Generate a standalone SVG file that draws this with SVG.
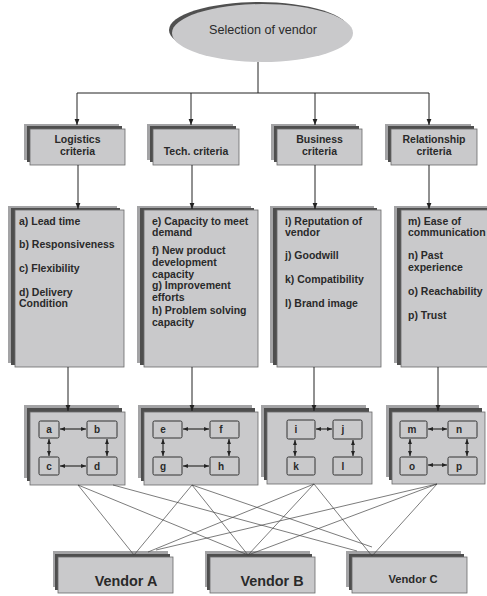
<svg xmlns="http://www.w3.org/2000/svg" width="487" height="596" viewBox="0 0 487 596">
<defs>
<style>
.sh1{fill:#a3a3a5}
.sh2{fill:#4e4e4e}
.box{fill:#c9c9cb;stroke:#6a6a6a;stroke-width:0.8}
.ib{fill:#c9c9cb;stroke:#333;stroke-width:1}
.t{font-family:"Liberation Sans",Arial,sans-serif;font-weight:bold;fill:#2a2a2a}
.hd{font-size:10.5px;text-anchor:middle}
.li{font-size:10.5px}
.lt{font-size:10px;text-anchor:middle}
.ln{stroke:#222;stroke-width:1;fill:none}
.ar{stroke:#222;stroke-width:1.1;fill:none}
.vl{stroke:#444;stroke-width:0.7;fill:none}
</style>
<marker id="ah" viewBox="0 0 10 10" refX="10" refY="5" markerWidth="6" markerHeight="6" orient="auto"><path d="M0,1 L10,5 L0,9 Z" fill="#222"/></marker>
<marker id="sa" viewBox="0 0 10 10" refX="10" refY="5" markerWidth="4.5" markerHeight="4.5" orient="auto-start-reverse"><path d="M0,1 L10,5 L0,9 Z" fill="#222"/></marker>
</defs>
<rect width="487" height="596" fill="#fff"/>

<g id="selection">
<ellipse cx="259" cy="30" rx="90" ry="28" fill="#505050"/>
<ellipse cx="262.5" cy="33" rx="90.5" ry="29" fill="#c9c9cb"/>
<text x="263" y="34" font-family="'Liberation Sans',Arial,sans-serif" font-size="12.6" text-anchor="middle" fill="#2a2a2a">Selection of vendor</text>
</g>

<g id="logistics-criteria">
<rect class="sh1" x="24" y="124" width="95" height="36"/><rect class="sh2" x="27" y="126" width="95" height="36"/><rect class="box" x="30" y="129" width="95" height="36"/>
<text class="t hd" x="77.5" y="143">Logistics</text><text class="t hd" x="77.5" y="155">criteria</text>
</g>
<g id="tech-criteria">
<rect class="sh1" x="147" y="124" width="86" height="36"/><rect class="sh2" x="150" y="126" width="86" height="36"/><rect class="box" x="153" y="129" width="86" height="36"/>
<text class="t hd" x="196" y="155">Tech. criteria</text>
</g>
<g id="business-criteria">
<rect class="sh1" x="271" y="124" width="85" height="36"/><rect class="sh2" x="274" y="126" width="85" height="36"/><rect class="box" x="277" y="129" width="85" height="36"/>
<text class="t hd" x="319.5" y="143">Business</text><text class="t hd" x="319.5" y="155">criteria</text>
</g>
<g id="relationship-criteria">
<rect class="sh1" x="385" y="124" width="86" height="36"/><rect class="sh2" x="388" y="126" width="86" height="36"/><rect class="box" x="391" y="129" width="86" height="36"/>
<text class="t hd" x="434" y="143">Relationship</text><text class="t hd" x="434" y="155">criteria</text>
</g>

<g id="logistics-list">
<rect class="sh1" x="8" y="206" width="109" height="157"/><rect class="sh2" x="11" y="208" width="109" height="157"/><rect class="box" x="15" y="210" width="109" height="157"/>
<text class="t li" x="19" y="225">a) Lead time</text>
<text class="t li" x="19" y="248">b) Responsiveness</text>
<text class="t li" x="19" y="272">c) Flexibility</text>
<text class="t li" x="19" y="296">d) Delivery</text>
<text class="t li" x="19" y="307">Condition</text>
</g>
<g id="tech-list">
<rect class="sh1" x="137" y="206" width="114" height="157"/><rect class="sh2" x="140" y="208" width="114" height="157"/><rect class="box" x="144" y="210" width="114" height="157"/>
<text class="t li" x="152" y="225">e) Capacity to meet</text>
<text class="t li" x="152" y="236">demand</text>
<text class="t li" x="152" y="254">f) New product</text>
<text class="t li" x="152" y="266">development</text>
<text class="t li" x="152" y="278">capacity</text>
<text class="t li" x="152" y="289">g) Improvement</text>
<text class="t li" x="152" y="301">efforts</text>
<text class="t li" x="152" y="314">h) Problem solving</text>
<text class="t li" x="152" y="326">capacity</text>
</g>
<g id="business-list">
<rect class="sh1" x="270" y="206" width="104" height="157"/><rect class="sh2" x="273" y="208" width="104" height="157"/><rect class="box" x="277" y="210" width="104" height="157"/>
<text class="t li" x="285" y="225">i) Reputation of</text>
<text class="t li" x="285" y="236">vendor</text>
<text class="t li" x="285" y="259">j) Goodwill</text>
<text class="t li" x="285" y="283">k) Compatibility</text>
<text class="t li" x="285" y="307">l) Brand image</text>
</g>
<g id="relationship-list">
<rect class="sh1" x="394" y="206" width="100" height="157"/><rect class="sh2" x="397" y="208" width="100" height="157"/><rect class="box" x="401" y="210" width="100" height="157"/>
<text class="t li" x="408" y="225">m) Ease of</text>
<text class="t li" x="408" y="236">communication</text>
<text class="t li" x="408" y="259">n) Past</text>
<text class="t li" x="408" y="271">experience</text>
<text class="t li" x="408" y="295">o) Reachability</text>
<text class="t li" x="408" y="319">p) Trust</text>
</g>

<g id="logistics-matrix">
<rect class="sh1" x="24" y="405" width="95" height="73"/><rect class="sh2" x="27" y="408" width="95" height="73"/><rect class="box" x="30" y="412" width="95" height="73"/>
<rect class="ib" x="39" y="421" width="20" height="17" rx="1.5"/><text class="t lt" x="49" y="433">a</text>
<rect class="ib" x="87" y="421" width="30" height="17" rx="1.5"/><text class="t lt" x="97" y="433">b</text>
<rect class="ib" x="39" y="457" width="20" height="18" rx="1.5"/><text class="t lt" x="49" y="470">c</text>
<rect class="ib" x="87" y="457" width="30" height="18" rx="1.5"/><text class="t lt" x="97" y="470">d</text>
</g>
<g id="tech-matrix">
<rect class="sh1" x="138" y="405" width="114" height="73"/><rect class="sh2" x="141" y="408" width="114" height="73"/><rect class="box" x="144" y="412" width="114" height="73"/>
<rect class="ib" x="153" y="421" width="29" height="17" rx="1.5"/><text class="t lt" x="163" y="433">e</text>
<rect class="ib" x="210" y="421" width="29" height="17" rx="1.5"/><text class="t lt" x="221" y="433">f</text>
<rect class="ib" x="153" y="457" width="29" height="18" rx="1.5"/><text class="t lt" x="163" y="470">g</text>
<rect class="ib" x="210" y="457" width="29" height="18" rx="1.5"/><text class="t lt" x="221" y="470">h</text>
</g>
<g id="business-matrix">
<rect class="sh1" x="261" y="405" width="105" height="72"/><rect class="sh2" x="264" y="408" width="105" height="72"/><rect class="box" x="267" y="412" width="105" height="72"/>
<rect class="ib" x="287" y="420" width="28" height="19" rx="1.5"/><text class="t lt" x="296" y="433">i</text>
<rect class="ib" x="333" y="420" width="29" height="19" rx="1.5"/><text class="t lt" x="343" y="433">j</text>
<rect class="ib" x="287" y="457" width="28" height="18" rx="1.5"/><text class="t lt" x="296" y="470">k</text>
<rect class="ib" x="333" y="457" width="29" height="18" rx="1.5"/><text class="t lt" x="343" y="470">l</text>
</g>
<g id="relationship-matrix">
<rect class="sh1" x="386" y="405" width="93" height="72"/><rect class="sh2" x="389" y="408" width="93" height="72"/><rect class="box" x="392" y="412" width="93" height="72"/>
<rect class="ib" x="400" y="421" width="27" height="17" rx="1.5"/><text class="t lt" x="412" y="433">m</text>
<rect class="ib" x="448" y="421" width="29" height="17" rx="1.5"/><text class="t lt" x="459" y="433">n</text>
<rect class="ib" x="400" y="457" width="27" height="18" rx="1.5"/><text class="t lt" x="412" y="470">o</text>
<rect class="ib" x="448" y="457" width="29" height="18" rx="1.5"/><text class="t lt" x="459" y="470">p</text>
</g>

<g id="vendor-a">
<rect class="sh1" x="53" y="551" width="115" height="36"/><rect class="sh2" x="55" y="554" width="115" height="36"/><rect class="box" x="58" y="557" width="115" height="36"/>
<text class="t" x="126" y="586" font-size="14.4" text-anchor="middle">Vendor A</text>
</g>
<g id="vendor-b">
<rect class="sh1" x="205" y="551" width="105" height="36"/><rect class="sh2" x="207" y="554" width="105" height="36"/><rect class="box" x="210" y="557" width="105" height="36"/>
<text class="t" x="272" y="586" font-size="14.4" text-anchor="middle">Vendor B</text>
</g>
<g id="vendor-c">
<rect class="sh1" x="346" y="551" width="115" height="36"/><rect class="sh2" x="349" y="554" width="115" height="36"/><rect class="box" x="352" y="557" width="115" height="36"/>
<text class="t" x="413" y="583" font-size="11.2" text-anchor="middle">Vendor C</text>
</g>

<g id="connectors">
<line class="ln" x1="258" y1="62" x2="258" y2="93"/>
<line class="ln" x1="77" y1="93" x2="429" y2="93"/>
<line class="ln" x1="77" y1="93" x2="77" y2="125" marker-end="url(#ah)"/>
<line class="ln" x1="191" y1="93" x2="191" y2="125" marker-end="url(#ah)"/>
<line class="ln" x1="315" y1="93" x2="315" y2="125" marker-end="url(#ah)"/>
<line class="ln" x1="429" y1="93" x2="429" y2="125" marker-end="url(#ah)"/>
<line class="ln" x1="78" y1="165" x2="78" y2="209" marker-end="url(#ah)"/>
<line class="ln" x1="192" y1="165" x2="192" y2="209" marker-end="url(#ah)"/>
<line class="ln" x1="315" y1="165" x2="315" y2="209" marker-end="url(#ah)"/>
<line class="ln" x1="429" y1="165" x2="429" y2="209" marker-end="url(#ah)"/>
<line class="ln" x1="68" y1="367" x2="68" y2="411" marker-end="url(#ah)"/>
<line class="ln" x1="192" y1="367" x2="192" y2="411" marker-end="url(#ah)"/>
<line class="ln" x1="314" y1="367" x2="314" y2="411" marker-end="url(#ah)"/>
<line class="ln" x1="438" y1="367" x2="438" y2="411" marker-end="url(#ah)"/>

<line class="ar" x1="60" y1="429" x2="86" y2="429" marker-start="url(#sa)" marker-end="url(#sa)"/>
<line class="ar" x1="60" y1="466" x2="86" y2="466" marker-start="url(#sa)" marker-end="url(#sa)"/>
<line class="ar" x1="49" y1="439" x2="49" y2="456" marker-start="url(#sa)" marker-end="url(#sa)"/>
<line class="ar" x1="107" y1="439" x2="107" y2="456" marker-start="url(#sa)" marker-end="url(#sa)"/>

<line class="ar" x1="183" y1="429" x2="209" y2="429" marker-start="url(#sa)" marker-end="url(#sa)"/>
<line class="ar" x1="183" y1="466" x2="209" y2="466" marker-start="url(#sa)" marker-end="url(#sa)"/>
<line class="ar" x1="163" y1="439" x2="163" y2="456" marker-start="url(#sa)" marker-end="url(#sa)"/>
<line class="ar" x1="229" y1="439" x2="229" y2="456" marker-start="url(#sa)" marker-end="url(#sa)"/>

<line class="ar" x1="316" y1="429" x2="332" y2="429" marker-start="url(#sa)" marker-end="url(#sa)"/>
<line class="ar" x1="295" y1="440" x2="295" y2="456" marker-start="url(#sa)" marker-end="url(#sa)"/>
<line class="ar" x1="353" y1="440" x2="353" y2="456" marker-start="url(#sa)" marker-end="url(#sa)"/>

<line class="ar" x1="428" y1="429" x2="447" y2="429" marker-start="url(#sa)" marker-end="url(#sa)"/>
<line class="ar" x1="428" y1="465" x2="447" y2="465" marker-start="url(#sa)" marker-end="url(#sa)"/>
<line class="ar" x1="410" y1="439" x2="410" y2="456" marker-start="url(#sa)" marker-end="url(#sa)"/>
<line class="ar" x1="467" y1="439" x2="467" y2="456" marker-start="url(#sa)" marker-end="url(#sa)"/>

<line class="vl" x1="78" y1="485" x2="134" y2="555"/>
<line class="vl" x1="78" y1="485" x2="248" y2="555"/>
<line class="vl" x1="113" y1="485" x2="357" y2="551"/>
<line class="vl" x1="192" y1="485" x2="134" y2="555"/>
<line class="vl" x1="192" y1="485" x2="248" y2="555"/>
<line class="vl" x1="192" y1="485" x2="372" y2="547"/>
<line class="vl" x1="314" y1="484" x2="148" y2="552"/>
<line class="vl" x1="314" y1="484" x2="248" y2="555"/>
<line class="vl" x1="314" y1="484" x2="372" y2="556"/>
<line class="vl" x1="437" y1="484" x2="156" y2="550"/>
<line class="vl" x1="437" y1="484" x2="248" y2="555"/>
<line class="vl" x1="437" y1="484" x2="372" y2="556"/>
</g>
</svg>
